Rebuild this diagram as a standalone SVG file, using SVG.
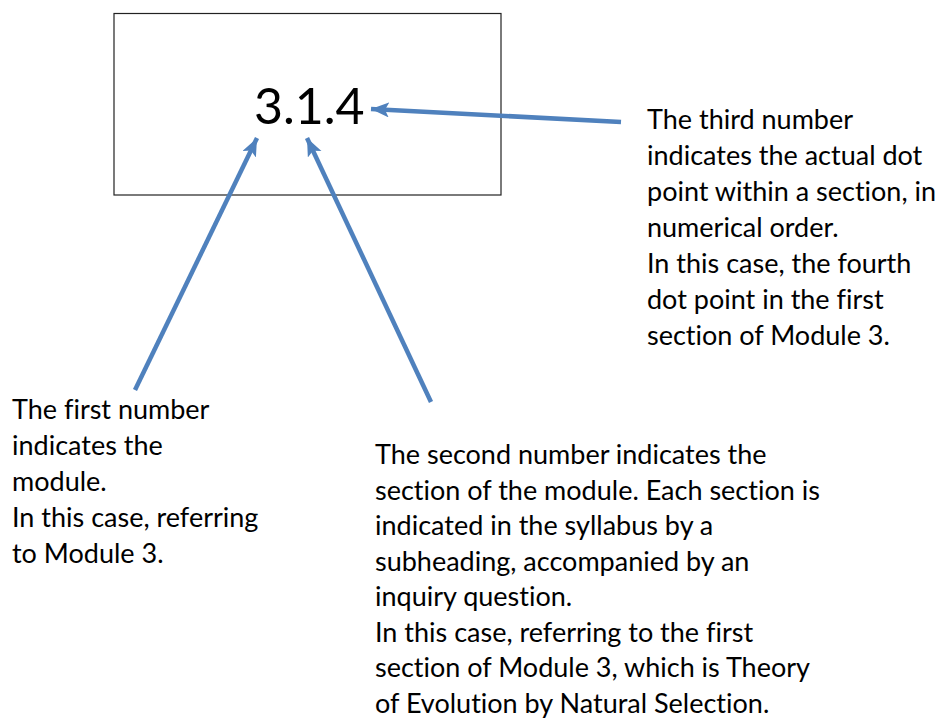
<svg xmlns="http://www.w3.org/2000/svg" width="940" height="720" viewBox="0 0 940 720">
<defs>
<style>
.t{font-family:Lato,"Open Sans","Liberation Sans",sans-serif;font-size:27px;fill:#000;font-variant-ligatures:none}
.num{font-family:Lato,"Open Sans","Liberation Sans",sans-serif;font-size:50px;fill:#000}
.c{stroke:#4F81BD;stroke-width:4.5;fill:none;marker-end:url(#ah)}
</style>
<marker id="ah" markerUnits="userSpaceOnUse" markerWidth="20" markerHeight="16" refX="18" refY="7.5" orient="auto">
<path d="M0,0 L18,7.5 L0,15 L4,7.5 Z" fill="#4F81BD"/>
</marker>
</defs>
<rect width="940" height="720" fill="#fff"/>
<g id="box">
<rect x="114" y="13.5" width="387" height="181.5" fill="#fff" stroke="#222" stroke-width="1.2"/>
<text class="num" x="254" y="124">3.1.4</text>
</g>
<g id="connectors">
<line class="c" x1="621" y1="122" x2="371" y2="109"/>
<line class="c" x1="135" y1="390" x2="257" y2="138"/>
<line class="c" x1="431" y1="402" x2="307" y2="138"/>
</g>
<g id="note-third">
<text class="t" x="647" y="129">The third number</text>
<text class="t" x="647" y="165">indicates the actual dot</text>
<text class="t" x="647" y="201">point within a section, in</text>
<text class="t" x="647" y="237">numerical order.</text>
<text class="t" x="647" y="273">In this case, the fourth</text>
<text class="t" x="647" y="309">dot point in the first</text>
<text class="t" x="647" y="345">section of Module 3.</text>
</g>
<g id="note-first">
<text class="t" x="12" y="419">The first number</text>
<text class="t" x="12" y="455">indicates the</text>
<text class="t" x="12" y="491">module.</text>
<text class="t" x="12" y="527">In this case, referring</text>
<text class="t" x="12" y="563">to Module 3.</text>
</g>
<g id="note-second">
<text class="t" x="375" y="464">The second number indicates the</text>
<text class="t" x="375" y="499.5">section of the module. Each section is</text>
<text class="t" x="375" y="535">indicated in the syllabus by a</text>
<text class="t" x="375" y="570.5">subheading, accompanied by an</text>
<text class="t" x="375" y="606">inquiry question.</text>
<text class="t" x="375" y="641.5">In this case, referring to the first</text>
<text class="t" x="375" y="677">section of Module 3, which is Theory</text>
<text class="t" x="375" y="712.5">of Evolution by Natural Selection.</text>
</g>
</svg>
